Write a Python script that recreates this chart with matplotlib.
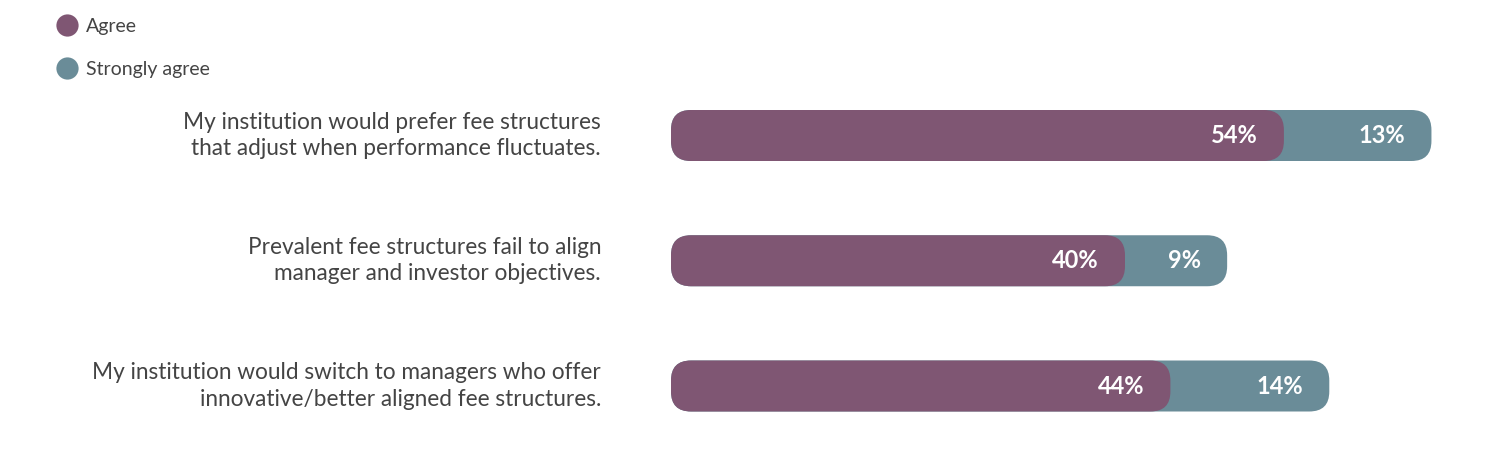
import matplotlib
matplotlib.use("Agg")
import matplotlib.pyplot as plt
from matplotlib.patches import FancyBboxPatch
from matplotlib.lines import Line2D

categories = [
    "My institution would prefer fee structures\nthat adjust when performance fluctuates.",
    "Prevalent fee structures fail to align\nmanager and investor objectives.",
    "My institution would switch to managers who offer\ninnovative/better aligned fee structures.",
]
agree = [54, 40, 44]
strongly_agree = [13, 9, 14]
series_names = ["Agree", "Strongly agree"]

PURPLE = "#7F5673"
TEAL = "#6A8C98"
TEXT = "#444444"
FONT = ["Lato", "DejaVu Sans"]

W, H, DPI = 1501, 465, 100
fig = plt.figure(figsize=(W / DPI, H / DPI), dpi=DPI)

x0_px = 671
px_per_unit = 11.35
ax = fig.add_axes([x0_px / W, 0, 1 - x0_px / W, 1])
ax.set_xlim(0, (W - x0_px) / px_per_unit)
row_px = 125.25
top_center = 135.5
ax.set_ylim((H - top_center) / row_px, -top_center / row_px)
ax.axis("off")

bar_h = 51 / row_px
radius_px = 20
r_units = radius_px / px_per_unit
aspect = px_per_unit / row_px

for i, (a, s) in enumerate(zip(agree, strongly_agree)):
    total = a + s
    for val, col, z in [(total, TEAL, 2), (a, PURPLE, 3)]:
        p = FancyBboxPatch((0, i - bar_h / 2), val, bar_h,
                           boxstyle=f"round,pad=0,rounding_size={r_units}",
                           mutation_aspect=aspect, fc=col, ec="none", zorder=z)
        ax.add_patch(p)
    pad = 26 / px_per_unit
    ax.text(a - pad, i, f"{a}%", ha="right", va="center", color="white",
            fontsize=17, fontweight="bold", family=FONT, zorder=5)
    ax.text(total - pad, i, f"{s}%", ha="right", va="center", color="white",
            fontsize=17, fontweight="bold", family=FONT, zorder=5)
    ax.text(-70 / px_per_unit, i, categories[i], ha="right", va="center",
            color=TEXT, fontsize=16.3, fontweight="normal", family=FONT,
            linespacing=1.3, clip_on=False)

handles = [Line2D([], [], marker="o", ls="none", markersize=16, mfc=c, mec="none")
           for c in (PURPLE, TEAL)]
fig.legend(handles, series_names, loc="upper left",
           bbox_to_anchor=(48 / W, 1 - 8 / H), frameon=False,
           prop={"family": FONT, "size": 14, "weight": "normal"},
           labelcolor=TEXT, handletextpad=0.45, labelspacing=1.35,
           handlelength=1.0, borderpad=0)

fig.savefig("out.png", dpi=DPI, facecolor="white")
